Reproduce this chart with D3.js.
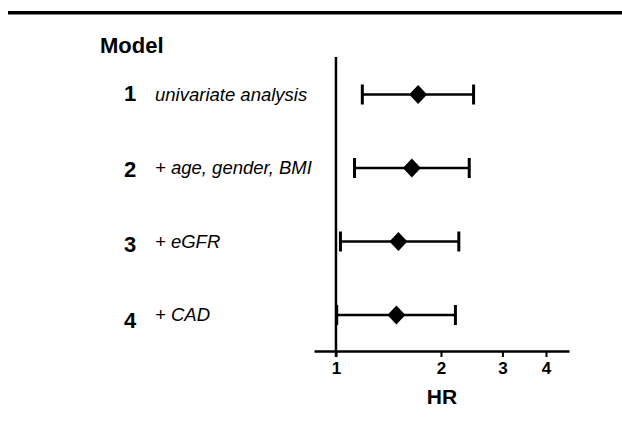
<!DOCTYPE html>
<html lang="en">
<head>
  <meta charset="UTF-8">
  <title>Forest plot HR</title>
  <script src="https://d3js.org/d3.v7.min.js"></script>
  <style>
    body { margin: 0; background: #fff; }
    svg { display: block; font-family: "Liberation Sans", Arial, Helvetica, sans-serif; }
    .num { font-weight: bold; font-size: 22px; }
    .lbl { font-style: italic; font-size: 18.5px; }
    .tick text { font-weight: bold; font-size: 17px; }
  </style>
</head>
<body>
<svg width="622" height="422"></svg>
<script>
  // data
  const models = ["1", "2", "3", "4"];
  const labels = ["univariate analysis", "+ age, gender, BMI", "+ eGFR", "+ CAD"];
  const hr = [1.72, 1.65, 1.51, 1.49];
  const lower = [1.19, 1.13, 1.03, 1.005];
  const upper = [2.48, 2.41, 2.25, 2.2];
  const xTicks = [1, 2, 3, 4];

  const svg = d3.select("svg");
  const rows = models.map((m, i) => ({ m: m, label: labels[i], hr: hr[i], lo: lower[i], hi: upper[i] }));

  const x = d3.scaleLog().domain([0.865, 4.656]).range([314, 569]);
  const y = d3.scalePoint().domain(models).range([94.5, 315]);

  // top rule
  svg.append("line")
    .attr("x1", 8).attr("x2", 622).attr("y1", 12.7).attr("y2", 12.7)
    .attr("stroke", "#000").attr("stroke-width", 3.5);

  // header
  svg.append("text")
    .attr("x", 100).attr("y", 53)
    .attr("font-weight", "bold").attr("font-size", "22px")
    .text("Model");

  // x axis
  const xAxis = svg.append("g")
    .attr("transform", "translate(0,351)")
    .call(d3.axisBottom(x).tickValues(xTicks).tickFormat(d3.format("d")).tickSize(6).tickSizeOuter(0).tickPadding(5));
  xAxis.select(".domain").attr("stroke-width", 2.5);
  xAxis.selectAll(".tick line").attr("stroke-width", 2);
  xAxis.selectAll(".tick text").attr("fill", "#000").attr("font-family", null).attr("font-size", null);

  svg.append("text")
    .attr("x", 442).attr("y", 404)
    .attr("text-anchor", "middle")
    .attr("font-weight", "bold").attr("font-size", "21px")
    .text("HR");

  // reference line at HR = 1
  svg.append("line")
    .attr("x1", x(1)).attr("x2", x(1)).attr("y1", 57).attr("y2", 357)
    .attr("stroke", "#000").attr("stroke-width", 2.5);

  // row labels
  const g = svg.selectAll(".row").data(rows).enter().append("g").attr("class", "row");

  g.append("text").attr("class", "num")
    .attr("x", 124)
    .attr("y", (d, i) => y(d.m) + 6.5 + i * 2.2)
    .text(d => d.m);

  g.append("text").attr("class", "lbl")
    .attr("x", 155)
    .attr("y", d => y(d.m) + 6)
    .text(d => d.label);

  // whiskers
  g.append("line")
    .attr("x1", d => x(d.lo)).attr("x2", d => x(d.hi))
    .attr("y1", d => y(d.m)).attr("y2", d => y(d.m))
    .attr("stroke", "#000").attr("stroke-width", 2.5);

  g.selectAll(".cap").data(d => [[d.lo, d.m], [d.hi, d.m]]).enter().append("line")
    .attr("class", "cap")
    .attr("x1", c => x(c[0])).attr("x2", c => x(c[0]))
    .attr("y1", c => y(c[1]) - 10).attr("y2", c => y(c[1]) + 10)
    .attr("stroke", "#000").attr("stroke-width", 3);

  // point estimate diamond
  g.append("path")
    .attr("d", d => {
      const cx = x(d.hr), cy = y(d.m);
      return "M" + (cx - 9) + "," + cy + "L" + cx + "," + (cy - 9.5) + "L" + (cx + 9) + "," + cy + "L" + cx + "," + (cy + 9.5) + "Z";
    })
    .attr("fill", "#000");
</script>
</body>
</html>
